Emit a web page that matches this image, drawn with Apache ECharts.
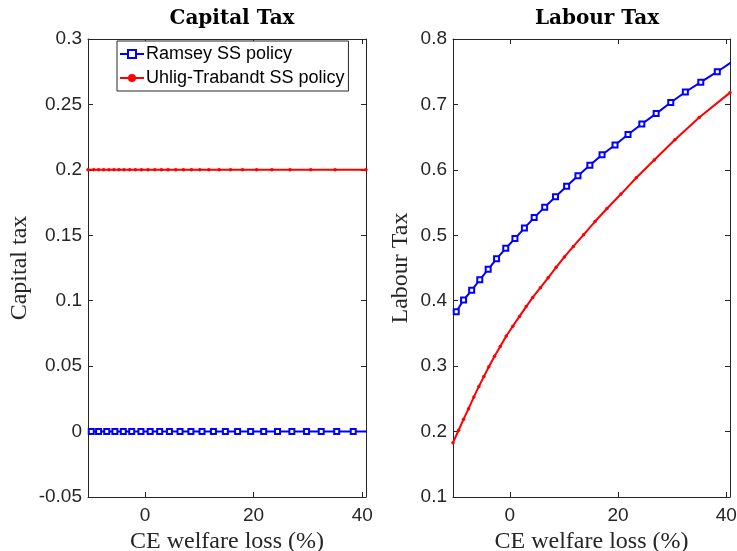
<!DOCTYPE html>
<html>
<head>
<meta charset="utf-8">
<script src="https://cdn.jsdelivr.net/npm/echarts@6/dist/echarts.min.js"></script>
<style>
html,body{margin:0;padding:0;background:#fff;}
#chart{width:737px;height:551px;}
</style>
</head>
<body>
<div id="chart"></div>
<script>
// ---- data ----
const panelTitles = ['Capital Tax', 'Labour Tax'];
const yNames = ['Capital tax', 'Labour Tax'];
const xName = 'CE welfare loss (%)';
const seriesNames = ['Ramsey SS policy', 'Uhlig-Trabandt SS policy'];
const xTicks = [0, 20, 40];
const xRange = [-10.5, 40.7];
const capitalRange = [-0.05, 0.3, 0.05];
const labourRange = [0.1, 0.8, 0.1];

const ramseyX = [-9.9, -8.55, -7.05, -5.55, -4.0, -2.45, -0.75, 0.95, 2.7, 4.5, 6.45, 8.45, 10.5, 12.6, 14.8, 17.05, 19.45, 21.85, 24.4, 27.05, 29.75, 32.45, 35.3, 38.35, 41.4];
const ramseyCapital = [0, 0, 0, 0, 0, 0, 0, 0, 0, 0, 0, 0, 0, 0, 0, 0, 0, 0, 0, 0, 0, 0, 0, 0, 0];
const ramseyLabour = [0.383, 0.401, 0.416, 0.432, 0.448, 0.464, 0.480, 0.495, 0.511, 0.527, 0.543, 0.559, 0.575, 0.591, 0.607, 0.623, 0.638, 0.654, 0.670, 0.686, 0.703, 0.719, 0.734, 0.750, 0.767];

const utX = [-10.5, -9.46, -8.54, -7.62, -6.64, -5.72, -4.80, -3.87, -2.82, -1.77, -0.66, 0.55, 1.79, 3.03, 4.24, 5.66, 7.08, 8.56, 10.09, 11.75, 13.65, 15.75, 17.97, 20.55, 23.38, 26.70, 30.52, 35.0, 40.7];
const utCapital = [0.2, 0.2, 0.2, 0.2, 0.2, 0.2, 0.2, 0.2, 0.2, 0.2, 0.2, 0.2, 0.2, 0.2, 0.2, 0.2, 0.2, 0.2, 0.2, 0.2, 0.2, 0.2, 0.2, 0.2, 0.2, 0.2, 0.2, 0.2, 0.2];
const utLabour = [0.183, 0.202, 0.219, 0.235, 0.253, 0.269, 0.284, 0.299, 0.315, 0.330, 0.346, 0.361, 0.376, 0.391, 0.405, 0.420, 0.435, 0.451, 0.467, 0.483, 0.501, 0.521, 0.541, 0.563, 0.588, 0.615, 0.646, 0.680, 0.718];

// ---- chart ----
const zip = (xs, ys) => xs.map((x, i) => [x, ys[i]]);
const axisColor = '#262626';
const sans = 'Liberation Sans';
const serif = 'Liberation Serif';

const grids = [
  {left: 88, top: 39, width: 278, height: 458, containLabel: false, outerBoundsMode: 'none'},
  {left: 453, top: 39, width: 277, height: 458, containLabel: false, outerBoundsMode: 'none'}
];

function xAxes(gi) {
  const common = {
    type: 'value', gridIndex: gi, min: xRange[0], max: xRange[1],
    axisLine: {show: true, onZero: false, lineStyle: {color: axisColor, width: 1}},
    splitLine: {show: false}
  };
  return [
    Object.assign({}, common, {
      position: 'bottom',
      name: xName, nameLocation: 'middle', nameGap: 28,
      nameTextStyle: {fontFamily: serif, fontSize: 24, color: axisColor},
      axisTick: {show: true, inside: true, length: 5, customValues: xTicks, lineStyle: {color: axisColor}},
      axisLabel: {show: true, customValues: xTicks, fontFamily: sans, fontSize: 19, color: axisColor, margin: 9}
    }),
    Object.assign({}, common, {
      position: 'top',
      axisTick: {show: true, inside: true, length: 5, customValues: xTicks, lineStyle: {color: axisColor}},
      axisLabel: {show: false, customValues: xTicks}
    })
  ];
}

function yAxes(gi, range, name, gap) {
  const common = {
    type: 'value', gridIndex: gi, min: range[0], max: range[1], interval: range[2],
    axisLine: {show: true, onZero: false, lineStyle: {color: axisColor, width: 1}},
    axisTick: {show: true, inside: true, length: 5, lineStyle: {color: axisColor}},
    splitLine: {show: false}
  };
  return [
    Object.assign({}, common, {
      position: 'left',
      name: name, nameLocation: 'middle', nameGap: gap,
      nameTextStyle: {fontFamily: serif, fontSize: 24, color: axisColor},
      axisLabel: {show: true, fontFamily: sans, fontSize: 19, color: axisColor, margin: 6}
    }),
    Object.assign({}, common, {
      position: 'right',
      axisLabel: {show: false}
    })
  ];
}

const blueStyle = {
  type: 'line', name: seriesNames[0], symbol: 'emptyRect', symbolSize: 5, showSymbol: true,
  lineStyle: {color: '#0000ff', width: 2}, itemStyle: {color: '#0000ff', borderColor: '#0000ff', borderWidth: 2.2},
  clip: true, animation: false, z: 3
};
const redStyle = {
  type: 'line', name: seriesNames[1], symbol: 'circle', symbolSize: 3.5, showSymbol: true,
  lineStyle: {color: '#ff0000', width: 2}, itemStyle: {color: '#ff0000'},
  clip: true, animation: false, z: 3
};

const option = {
  backgroundColor: '#ffffff',
  animation: false,
  title: [
    {text: panelTitles[0], left: 227, top: 4, textAlign: 'center',
     textStyle: {fontFamily: 'DejaVu Serif', fontWeight: 'bold', fontSize: 20, color: '#000'}},
    {text: panelTitles[1], left: 592, top: 4, textAlign: 'center',
     textStyle: {fontFamily: 'DejaVu Serif', fontWeight: 'bold', fontSize: 20, color: '#000'}}
  ],
  legend: {
    data: seriesNames, orient: 'vertical', left: 117, top: 41,
    itemWidth: 24, itemHeight: 10, itemGap: 6,
    padding: [4, 4, 4, 2],
    borderColor: axisColor, borderWidth: 1, backgroundColor: '#fff',
    textStyle: {fontFamily: sans, fontSize: 18, color: '#000', padding: [0, 0, 0, -3]}
  },
  grid: grids,
  xAxis: [].concat(xAxes(0), xAxes(1)),
  yAxis: [].concat(yAxes(0, capitalRange, yNames[0], 56), yAxes(1, labourRange, yNames[1], 40)),
  series: [
    Object.assign({}, redStyle, {xAxisIndex: 0, yAxisIndex: 0, data: zip(utX, utCapital)}),
    Object.assign({}, blueStyle, {xAxisIndex: 0, yAxisIndex: 0, data: zip(ramseyX, ramseyCapital)}),
    Object.assign({}, redStyle, {xAxisIndex: 2, yAxisIndex: 2, data: zip(utX, utLabour)}),
    Object.assign({}, blueStyle, {xAxisIndex: 2, yAxisIndex: 2, data: zip(ramseyX, ramseyLabour)})
  ]
};

const chart = echarts.init(document.getElementById('chart'), null, {renderer: 'canvas'});
chart.setOption(option);
</script>
</body>
</html>
